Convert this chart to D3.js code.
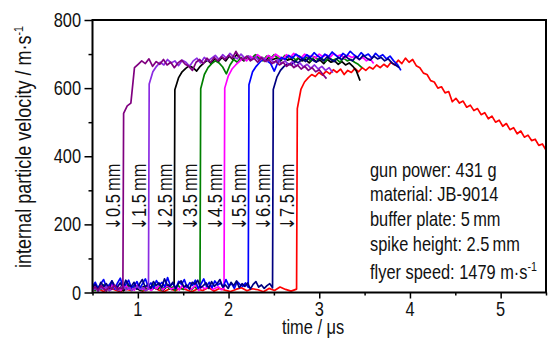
<!DOCTYPE html>
<html><head><meta charset="utf-8">
<script src="https://cdn.jsdelivr.net/npm/d3@7/dist/d3.min.js"></script>
<style>
body{margin:0;background:#fff}
text{font-family:"Liberation Sans",Arial,sans-serif;fill:#111}
</style></head><body>
<svg id="chart" width="553" height="339"></svg>
<script>
// ---- data ----
const labels = ["0.5", "1.5", "2.5", "3.5", "4.5", "5.5", "6.5", "7.5"];
const colors = ["#800080", "#8a2be2", "#000000", "#008000", "#ff00ff", "#0000ff", "#000080", "#ff0000"];
const riseTimes = [0.835, 1.117, 1.40, 1.685, 1.95, 2.217, 2.485, 2.75];
const endTimes = [3.08, 3.15, 3.45, 3.47, 3.60, 3.90, 3.88, 5.50];
const xTicks = [1, 2, 3, 4, 5];
const yTicks = [0, 200, 400, 600, 800];
const notes = ["gun power: 431 g", "material: JB-9014", "buffer plate: 5\u2009mm", "spike height: 2.5\u2009mm"];

// baseline (before arrival) samples, from t = 0.5 to arrival
const base05 = [10,16,6,20,12,4,17,9,22,8,14,10];
const base15 = [6,12,4,14,9,18,5,11,16,7,13,20,8,15,6,12,18,9,14,5,10];
const base25 = [8,15,6,18,10,22,7,14,20,9,16,5,12,19,8,24,11,6,17,13,21,8,15,10,18,7,14,22,9,12];
const base35 = [12,6,18,9,22,14,7,20,11,16,5,19,10,24,8,15,12,21,6,17,13,9,23,11,18,7,14,20,10,16,6,22,12,9,19,14,8,17,11,13];
const base45 = [9,17,6,21,12,15,8,24,11,18,5,14,20,10,16,7,22,13,9,19,12,6,17,11,23,8,15,20,10,13,18,7,21,12,16,9,14,22,6,18,11,15,20,9,13,17,8,12];
const base55 = [18,30,12,26,38,15,22,34,10,28,42,16,24,36,14,20,32,11,26,40,18,28,13,35,22,30,16,44,20,27,12,33,24,38,15,29,21,36,12,25,40,18,30,14,34,22,28,16,38,20,26,12,32,24,18,28,15];
const base65 = [14,24,8,30,18,26,10,34,20,16,28,12,36,22,18,30,10,26,38,16,24,12,32,20,28,14,40,22,18,30,12,26,34,16,22,10,30,24,36,14,20,28,12,32,18,26,38,16,22,12,30,20,34,14,26,18,28,10,24,32,16,22,12,20,26,14];
const base75 = [5,12,3,15,8,2,10,6,14,4,9,16,7,3,11,5,13,8,2,10,6,15,4,12,7,3,9,14,5,11,8,2,12,6,16,9,4,10];

// plateau samples, from arrival to end of record
const plat05 = [526,548,556,660,670,680,672,686,664,678,670,684,668,676,660,674,682,670,664,652,676,684,672,688,676,690,680,692,684,696,688,708,690,684,694,680,688,676,690,678,684,672,680,668,676,664,672,660,668,656,664,652,660,648,654,640,628];
const plat15 = [612,648,664,676,668,684,674,680,666,682,676,664,680,688,674,690,680,688,696,684,698,688,702,692,686,700,688,694,684,692,680,688,678,686,674,684,672,680,668,678,664,674,662,670,658,668,656,664,652,660,645];
const plat25 = [595,630,648,658,666,660,650,664,674,682,672,686,678,690,680,694,684,698,688,680,692,684,696,686,690,680,694,684,688,678,690,682,686,676,688,680,684,674,686,678,682,672,684,676,680,670,678,668,674,664,650,622];
const plat35 = [598,640,660,672,680,674,662,642,668,684,676,690,682,694,686,698,688,680,694,686,698,690,684,696,688,692,682,694,686,690,680,692,684,688,678,690,682,686,676,688,680,684,676,670,660];
const plat45 = [600,636,656,668,678,688,680,694,686,698,690,684,696,688,700,692,686,698,690,702,694,688,700,692,696,688,700,692,698,690,702,694,698,688,696,690,694,684,690,680,686,672];
const plat55 = [610,648,664,676,686,680,672,650,676,690,684,696,688,700,692,686,698,690,704,694,688,700,692,706,696,688,702,694,708,698,690,704,694,700,688,702,692,698,686,694,680,670,652];
const plat65 = [596,632,652,664,672,668,680,674,686,678,690,682,676,688,680,692,684,678,690,684,694,686,680,692,684,696,688,682,694,686,690,680,686,674,668,660];
const plat75 = [540,596,618,630,640,634,646,638,650,642,654,646,656,640,652,646,658,648,660,652,662,656,668,660,670,662,676,668,682,672,688,676,684,666,660,644,640,622,618,600,604,586,590,560,570,556,562,544,550,534,540,522,528,510,518,500,506,488,496,478,484,466,474,456,462,446,450,432,436,418];

const bases = [base05, base15, base25, base35, base45, base55, base65, base75];
const plats = [plat05, plat15, plat25, plat35, plat45, plat55, plat65, plat75];
const drawOrder = [7, 2, 3, 4, 5, 6, 1, 0];

// ---- chart ----
const svg = d3.select("#chart");
const x = d3.scaleLinear().domain([0.5, 5.5]).range([92.5, 546]);
const y = d3.scaleLinear().domain([0, 800]).range([292.5, 20]);
const NARROW = 0.82;

function seriesPoints(i) {
  const b = bases[i], p = plats[i], r = riseTimes[i], e = endTimes[i];
  const pts = [];
  const tb = d3.scaleLinear().domain([0, b.length - 1]).range([0.5, r]);
  b.forEach((v, k) => pts.push([tb(k), v]));
  const tp = d3.scaleLinear().domain([0, p.length - 1]).range([r + 0.008, e]);
  p.forEach((v, k) => pts.push([tp(k), v]));
  return pts;
}

// condensed text helper (emulates a narrow sans face)
function ntext(px, py, rot, size, anchor) {
  const g = svg.append("g").attr("transform", `translate(${px},${py}) rotate(${rot}) scale(${NARROW},1)`);
  return g.append("text").attr("font-size", size).attr("text-anchor", anchor || "start");
}

svg.append("clipPath").attr("id", "clip").append("rect")
  .attr("x", x(0.5)).attr("y", y(800)).attr("width", x(5.5) - x(0.5)).attr("height", y(0) - y(800));

const line = d3.line().x(d => x(d[0])).y(d => y(d[1]));
const gLines = svg.append("g").attr("clip-path", "url(#clip)");
drawOrder.forEach(i => {
  gLines.append("path").datum(seriesPoints(i))
    .attr("d", line).attr("fill", "none").attr("stroke", colors[i])
    .attr("stroke-width", 1.7).attr("stroke-linejoin", "round");
});

// axes (ticks via d3 axes, labels drawn condensed)
svg.append("g").attr("transform", `translate(${x(0.5)},0)`)
  .call(d3.axisLeft(y).tickValues(yTicks).tickSize(8).tickFormat(""));
svg.append("g").attr("transform", `translate(${x(0.5)},0)`)
  .call(d3.axisLeft(y).tickValues(yTicks.slice(0, -1).map(v => v + 100)).tickSize(4).tickFormat(""));
svg.append("g").attr("transform", `translate(0,${y(0)})`)
  .call(d3.axisBottom(x).tickValues(xTicks).tickSize(6).tickFormat(""));
svg.append("g").attr("transform", `translate(0,${y(0)})`)
  .call(d3.axisBottom(x).tickValues([0.5, ...xTicks.map(v => v + 0.5)]).tickSize(3).tickFormat(""));
svg.selectAll(".domain").remove();
svg.selectAll(".tick line").attr("stroke", "#000").attr("stroke-width", 1.5);

yTicks.forEach(v => ntext(81, y(v) + 7, 0, 20, "end").text(v));
xTicks.forEach(v => ntext(x(v), 316, 0, 20, "middle").text(v));

// frame
svg.append("rect").attr("x", x(0.5)).attr("y", y(800))
  .attr("width", x(5.5) - x(0.5)).attr("height", y(0) - y(800))
  .attr("fill", "none").attr("stroke", "#000").attr("stroke-width", 2);

// axis titles
const yt = ntext(31, 268, -90, 22, "start");
yt.append("tspan").text("internal particle velocity / m\u00b7s");
yt.append("tspan").attr("dy", -8).attr("font-size", 13).text("-1");

ntext(313, 334, 0, 20, "middle").text("time / \u03bcs");

// mm labels
labels.forEach((l, i) => {
  const t = ntext(x(riseTimes[i]) - 2.5, 230, -90, 20, "start");
  t.append("tspan").style("font-family", '"DejaVu Sans",sans-serif').attr("font-size", 19).text("\u2193");
  t.append("tspan").text(l + "\u2009mm");
});

// annotation
const noteY = [177, 201, 226, 251];
notes.forEach((n, i) => ntext(370, noteY[i], 0, 20, "start").text(n));
const fs = ntext(370, 279, 0, 20, "start");
fs.append("tspan").text("flyer speed: 1479 m\u00b7s");
fs.append("tspan").attr("dy", -8).attr("font-size", 13).text("-1");
</script>
</body></html>
